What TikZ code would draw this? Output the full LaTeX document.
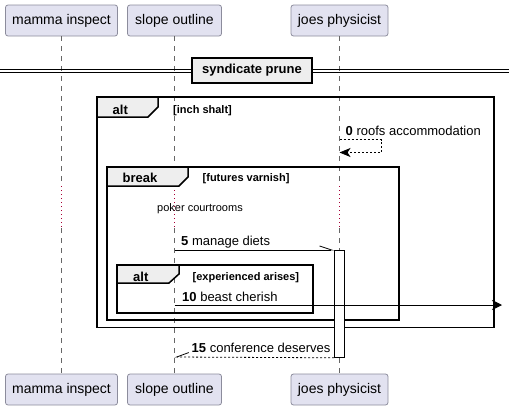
\documentclass[tikz,border=0pt]{standalone}
\usepackage{fontspec}
\setmainfont{Liberation Sans}
\usetikzlibrary{arrows.meta}
\definecolor{partfill}{HTML}{E2E2F0}
\definecolor{partdraw}{HTML}{8C8C9C}
\definecolor{tabfill}{HTML}{EEEEEE}
\definecolor{lifeln}{HTML}{666666}
\definecolor{delayc}{HTML}{A80036}
\begin{document}
\begin{tikzpicture}[x=1pt,y=-1pt,
  part/.style={draw=partdraw, fill=partfill, rounded corners=2.5pt, minimum height=31pt, inner sep=0pt, line width=0.8pt, font=\fontsize{14}{16}\selectfont},
  life/.style={draw=lifeln, dash pattern=on 5pt off 5pt, line width=0.8pt},
  delayline/.style={draw=delayc, dash pattern=on 1pt off 3pt, line width=1pt},
  frm/.style={line width=1.5pt, draw=black},
  tabshape/.style={line width=1.5pt, draw=black, fill=tabfill},
  tabtxt/.style={font=\bfseries\fontsize{13}{15}\selectfont, inner sep=0pt, anchor=base west},
  cond/.style={font=\bfseries\fontsize{11}{13}\selectfont, inner sep=0pt, anchor=base west},
  msg/.style={font=\fontsize{13}{15}\selectfont, inner sep=0pt, anchor=base west},
  note/.style={font=\fontsize{11}{13}\selectfont, inner sep=0pt, anchor=base west},
  arr/.style={draw=black, line width=0.8pt},
  dotarr/.style={draw=black, line width=0.8pt, dash pattern=on 2pt off 2pt}
]
\useasboundingbox (0,0) rectangle (509,410);

% participants
\node[part, minimum width=112pt] (mA) at (61.5,20.5) {mamma inspect};
\node[part, minimum width=94pt] (sA) at (174.5,20.5) {slope outline};
\node[part, minimum width=97pt] (jA) at (339.5,20.5) {joes physicist};
\node[part, minimum width=112pt] (mB) at (61.5,389.5) {mamma inspect};
\node[part, minimum width=94pt] (sB) at (174.5,389.5) {slope outline};
\node[part, minimum width=97pt] (jB) at (339.5,389.5) {joes physicist};

% lifelines with delay
\coordinate (mD1) at (61.5,186); \coordinate (mD2) at (61.5,228);
\coordinate (sD1) at (174.5,186); \coordinate (sD2) at (174.5,228);
\coordinate (jD1) at (339.5,186); \coordinate (jD2) at (339.5,228);
\draw[life] (mA.south) -- (mD1); \draw[delayline] (mD1) -- (mD2); \draw[life] (mD2) -- (mB.north);
\draw[life] (sA.south) -- (sD1); \draw[delayline] (sD1) -- (sD2); \draw[life] (sD2) -- (sB.north);
\draw[life] (jA.south) -- (jD1); \draw[delayline] (jD1) -- (jD2); \draw[life] (jD2) -- (jB.north);

% divider
\draw[line width=1pt] (0,69) -- (509,69);
\draw[line width=1pt] (0,72) -- (509,72);
\node[draw=black, line width=1.5pt, fill=tabfill, minimum width=120pt, minimum height=25pt, inner sep=0pt,
  font=\bfseries\fontsize{13}{15}\selectfont] (div) at (252,70.5) {syndicate prune};

% outer alt
\draw[frm] (97,97) rectangle (494,327.5);
\draw[tabshape] (97,97) -- (158,97) -- (158,107) -- (148,117) -- (97,117) -- cycle;
\node[tabtxt] (altA) at (112.5,114) {alt};
\node[cond] (condA) at (173,113) {[inch shalt]};

% message 0 (self)
\node[msg] (l0) at (345.5,135) {\textbf{0} roofs accommodation};
\coordinate (m0a) at (339.5,139.5);
\coordinate (m0b) at (381,139.5);
\coordinate (m0c) at (381,152.5);
\coordinate (m0d) at (339.5,152.5);
\draw[dotarr, -{Stealth[length=11pt, width=9pt, inset=3pt]}] (m0a) -- (m0b) -- (m0c) -- (m0d);

% break
\draw[frm] (107,167) rectangle (399,320);
\draw[tabshape] (107,167) -- (188,167) -- (188,177) -- (179,186) -- (107,186) -- cycle;
\node[tabtxt] (brk) at (122.5,182) {break};
\node[cond] (condB) at (202.5,181) {[futures varnish]};

% delay text
\node[note] (dly) at (157,211) {poker courtrooms};

% activation
\node[draw=black, fill=white, line width=0.8pt, minimum width=10pt, minimum height=107pt, inner sep=0pt, anchor=north west] (act) at (334,250) {};

% message 5
\node[msg] (l5) at (181,245) {\textbf{5} manage diets};
\coordinate (m5s) at (174.5,250);
\draw[arr, -{Straight Barb[left, length=12pt, width=8pt]}] (m5s) -- (act.north west);

% inner alt
\draw[frm] (117,265) rectangle (313,313);
\draw[tabshape] (117,265) -- (179,265) -- (179,274) -- (169,283) -- (117,283) -- cycle;
\node[tabtxt] (altB) at (133,281) {alt};
\node[cond] (condC) at (192.5,280) {[experienced arises]};

% message 10
\node[msg] (l10) at (182,301) {\textbf{10} beast cherish};
\coordinate (m10s) at (174.5,305);
\coordinate (m10e) at (502,305);
\draw[arr, -{Stealth[length=10pt, width=10pt, inset=3pt]}] (m10s) -- (m10e);

% message 15
\node[msg] (l15) at (191.5,352) {\textbf{15} conference deserves};
\coordinate (m15e) at (174.5,357);
\draw[dotarr, -{Straight Barb[right, length=12pt, width=9pt]}] (act.south west) -- (m15e);

\end{tikzpicture}
\end{document}
